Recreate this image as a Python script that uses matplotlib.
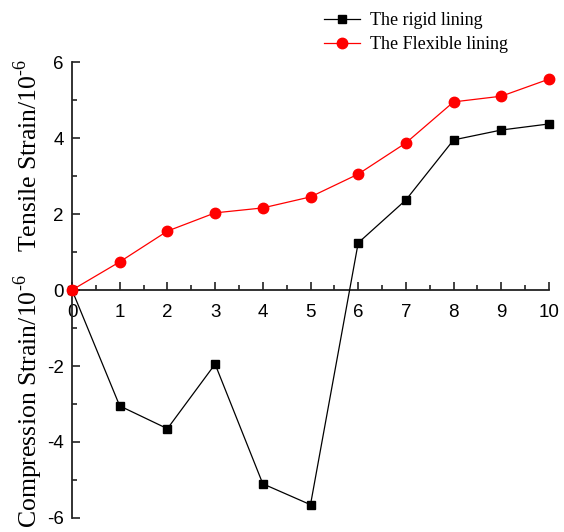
import matplotlib
matplotlib.use("Agg")
import matplotlib.pyplot as plt
from matplotlib.ticker import MultipleLocator

plt.rcParams["axes.unicode_minus"] = False

# --- Data ---
x_vals = [0, 1, 2, 3, 4, 5, 6, 7, 8, 9, 10]
rigid = [0, -3.05, -3.65, -1.95, -5.1, -5.65, 1.24, 2.37, 3.95, 4.21, 4.37]
flexible = [0, 0.74, 1.55, 2.03, 2.16, 2.45, 3.05, 3.87, 4.95, 5.1, 5.55]
series_names = ["The rigid lining", "The Flexible lining"]

# --- Figure setup ---
fig = plt.figure(figsize=(5.64, 5.32), dpi=100)
ax = fig.add_axes([72 / 564, 1 - 518 / 532, 477 / 564, 456 / 532])

line1, = ax.plot(x_vals, rigid, color="black", lw=0.9, marker="s", ms=6,
                 label=series_names[0], clip_on=False, zorder=3)
line2, = ax.plot(x_vals, flexible, color="red", lw=0.9, marker="o", ms=7.5,
                 label=series_names[1], clip_on=False, zorder=4)

ax.set_xlim(0, 10)
ax.set_ylim(-6, 6)

# spines: left axis plus x axis through zero
ax.spines["top"].set_visible(False)
ax.spines["right"].set_visible(False)
ax.spines["bottom"].set_position(("data", 0))
for s in ("left", "bottom"):
    ax.spines[s].set_linewidth(1.3)
    ax.spines[s].set_color("#222222")

ax.xaxis.set_major_locator(MultipleLocator(1))
ax.xaxis.set_minor_locator(MultipleLocator(0.5))
ax.yaxis.set_major_locator(MultipleLocator(2))
ax.yaxis.set_minor_locator(MultipleLocator(1))

ax.tick_params(which="major", direction="in", length=6, width=1.2,
               labelsize=13.5, color="#222222")
ax.tick_params(which="minor", direction="in", length=3.5, width=1.2,
               color="#222222")
ax.tick_params(axis="x", pad=10)
ax.tick_params(axis="y", pad=6)
for lab in ax.get_xticklabels() + ax.get_yticklabels():
    lab.set_fontfamily("Liberation Sans")

# --- Two axis labels (tensile above zero, compression below) ---
serif = "Liberation Serif"
plt.rcParams["mathtext.fontset"] = "custom"
plt.rcParams["mathtext.rm"] = serif
fig.text(28 / 564, 1 - 155 / 532, r"Tensile Strain/10$^{\text{-6}}$",
         rotation=90, ha="center", va="center", fontsize=18.5, family=serif)
fig.text(28 / 564, 1 - 401 / 532, r"Compression Strain/10$^{\text{-6}}$",
         rotation=90, ha="center", va="center", fontsize=18.5, family=serif)

# --- Legend on top ---
fig.legend(handles=[line1, line2], loc="upper left",
           bbox_to_anchor=(308 / 564, 1 + 4 / 532), frameon=False,
           prop={"family": serif, "size": 13}, handlelength=2.0,
           handletextpad=0.55, labelspacing=0.4)

fig.savefig("out.png", dpi=100)
